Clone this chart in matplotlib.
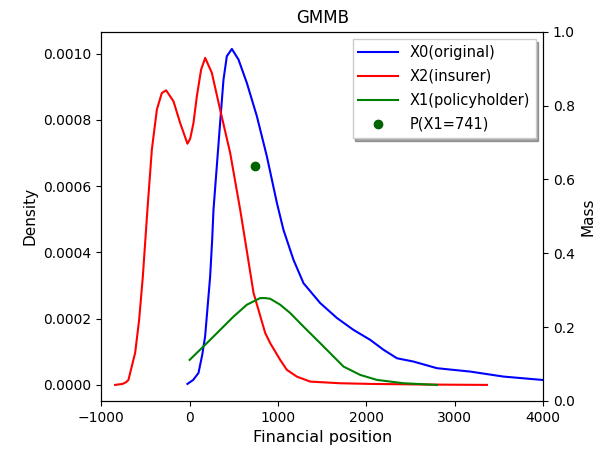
import matplotlib
matplotlib.use("Agg")
import matplotlib.pyplot as plt

# density curves (x = financial position, y = density)
x0_pos = [-25, 40, 100, 142, 175, 232, 255, 270, 345, 383, 421, 478, 553, 648, 761,
          874, 988, 1062, 1175, 1289, 1478, 1667, 1855, 2044, 2195, 2347, 2535, 2800,
          3177, 3554, 3989, 4100]
x0_dens = [0.000003, 0.000015, 0.000036, 0.00009, 0.000146, 0.000327, 0.000438,
           0.000529, 0.000791, 0.000921, 0.000992, 0.001014, 0.000982, 0.000911,
           0.000811, 0.000690, 0.000549, 0.000468, 0.000378, 0.000307, 0.000247,
           0.000202, 0.000166, 0.000136, 0.000106, 0.0000804, 0.0000704, 0.0000504,
           0.0000402, 0.0000251, 0.0000151, 0.000012]

x2_pos = [-844, -760, -720, -693, -617, -572, -530, -478, -428, -371, -315, -266, -183,
          -108, -25, 6, 43, 82, 130, 176, 251, 345, 459, 572, 650, 723, 855, 912, 1025,
          1101, 1214, 1365, 1700, 2044, 2700, 3366]
x2_dens = [0.0, 0.000003, 0.000008, 0.0000151, 0.0000967, 0.000196, 0.000327, 0.000529,
           0.000710, 0.000831, 0.000881, 0.000889, 0.000856, 0.000791, 0.000728,
           0.000743, 0.000790, 0.000872, 0.000952, 0.000987, 0.000942, 0.000831,
           0.000700, 0.000529, 0.000400, 0.000278, 0.000157, 0.000126, 0.0000755,
           0.0000453, 0.000025, 0.000010, 0.000005, 0.000003, 0.000001, 0.0]

x1_pos = [0, 156, 308, 496, 648, 798, 855, 912, 1025, 1138, 1289, 1478, 1591, 1742,
          1931, 2120, 2421, 2800]
x1_dens = [0.0000755, 0.000116, 0.000156, 0.000206, 0.000242, 0.000262, 0.000262,
           0.000260, 0.000242, 0.000217, 0.000176, 0.000126, 0.0000958, 0.0000553,
           0.0000302, 0.0000151, 0.000005, 0.0]

# point mass
mass_x = [741]
mass_p = [0.635]

fig = plt.figure(figsize=(5.96, 4.53), dpi=100)
ax1 = fig.add_axes([0.170, 0.115, 0.741, 0.815])
ax2 = ax1.twinx()

l0, = ax1.plot(x0_pos, x0_dens, color="blue", lw=1.5, label="X0(original)")
l2, = ax1.plot(x2_pos, x2_dens, color="red", lw=1.5, label="X2(insurer)")
l1, = ax1.plot(x1_pos, x1_dens, color="green", lw=1.5, label="X1(policyholder)")
pt, = ax2.plot(mass_x, mass_p, "o", color="darkgreen", ms=6, label="P(X1=741)")

ax1.set_xlim(-1000, 4000)
ax1.set_ylim(-0.0000483, 0.001066)
ax1.set_yticks([0.0, 0.0002, 0.0004, 0.0006, 0.0008, 0.0010])
ax1.set_yticklabels(["0.0000", "0.0002", "0.0004", "0.0006", "0.0008", "0.0010"])
ax1.set_xticks([-1000, 0, 1000, 2000, 3000, 4000])
ax2.set_ylim(0, 1.0)
ax2.set_yticks([0.0, 0.2, 0.4, 0.6, 0.8, 1.0])

ax1.set_xlabel("Financial position", fontsize=11.5)
ax1.set_ylabel("Density", fontsize=11)
ax2.set_ylabel("Mass", fontsize=11, labelpad=4)
ax1.set_title("GMMB", fontsize=12)

ax2.legend(handles=[l0, l2, l1, pt], loc="upper right", shadow=True,
           fancybox=False, framealpha=1, edgecolor="#cccccc", fontsize=10.5,
           handlelength=2.7, labelspacing=0.62)

fig.savefig("out.png", dpi=100)
